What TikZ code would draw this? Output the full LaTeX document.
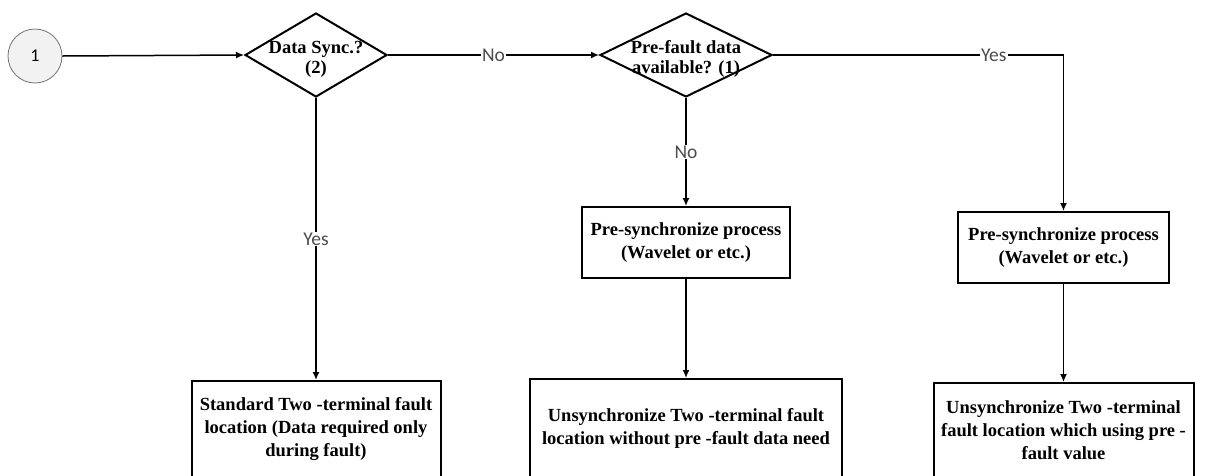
\documentclass[tikz,border=0pt]{standalone}
\usepackage{fontspec}
\setmainfont{Liberation Serif}
\newfontfamily\labelfont{Carlito}
\usetikzlibrary{shapes.geometric,arrows.meta}

\begin{document}
\begin{tikzpicture}[x=1pt,y=-1pt,
  flow/.style={line width=1.5pt,-{Latex[length=8pt,width=7pt]}},
  edgelabel/.style={fill=white,inner sep=1pt,text=black!70,
    font=\labelfont\fontsize{19.5}{19.5}\selectfont},
  connector/.style={circle,draw=black!55,fill=black!5,line width=0.8pt,
    minimum size=54pt,inner sep=0pt,font=\labelfont\fontsize{18}{18}\selectfont},
  decision/.style={diamond,draw,line width=2pt,inner sep=0pt},
  dtext/.style={align=center,inner sep=0pt,yshift=-4pt,
    font=\fontsize{18.5}{20}\selectfont\bfseries},
  procbox/.style={rectangle,draw,line width=2pt,inner sep=0pt,align=center,
    font=\fontsize{18.5}{23}\selectfont\bfseries}
]
\useasboundingbox (0,0) rectangle (1205,475);
\clip (0,0) rectangle (1205,475);

% start connector
\node[connector] (c1) at (35,56) {1};

% decisions
\node[decision,minimum width=142pt,minimum height=84pt,
  label={[dtext]center:{Data Sync.?\\(2)}}] (d1) at (316,55) {};
\node[decision,minimum width=172pt,minimum height=84pt,
  label={[dtext]center:{Pre-fault data\\available? (1)}}] (d2) at (686,55) {};

% pre-synchronisation steps
\node[procbox,minimum width=208pt,minimum height=71pt] (p1) at (686,242.5)
  {Pre-synchronize process\\(Wavelet or etc.)};
\node[procbox,minimum width=211pt,minimum height=71pt] (p2) at (1063.5,247.5)
  {Pre-synchronize process\\(Wavelet or etc.)};

% fault location methods
\node[procbox,minimum width=249pt,minimum height=97pt] (b1) at (316,429.5)
  {Standard Two -terminal fault\\location (Data required only\\during fault)};
\node[procbox,minimum width=312pt,minimum height=99pt] (b2) at (686,428.5)
  {Unsynchronize Two -terminal fault\\location without pre -fault data need};
\node[procbox,minimum width=260pt,minimum height=95pt] (b3) at (1063.5,430.5)
  {Unsynchronize Two -terminal\\fault location which using pre -\\fault value};

% connectors
\draw[flow] (c1.east) -- (d1.west);
\draw[flow] (d1.east) -- node[edgelabel]{No} (d2.west);
\draw[flow] (d1.south) -- node[edgelabel]{Yes} (b1.north);
\draw[flow] (d2.south) -- node[edgelabel]{No} (p1.north);
\draw[flow] (d2.east) -| node[edgelabel,pos=0.38]{Yes} (p2.north);
\draw[flow] (p1.south) -- (b2.north);
\draw[flow] (p2.south) -- (b3.north);
\end{tikzpicture}
\end{document}
